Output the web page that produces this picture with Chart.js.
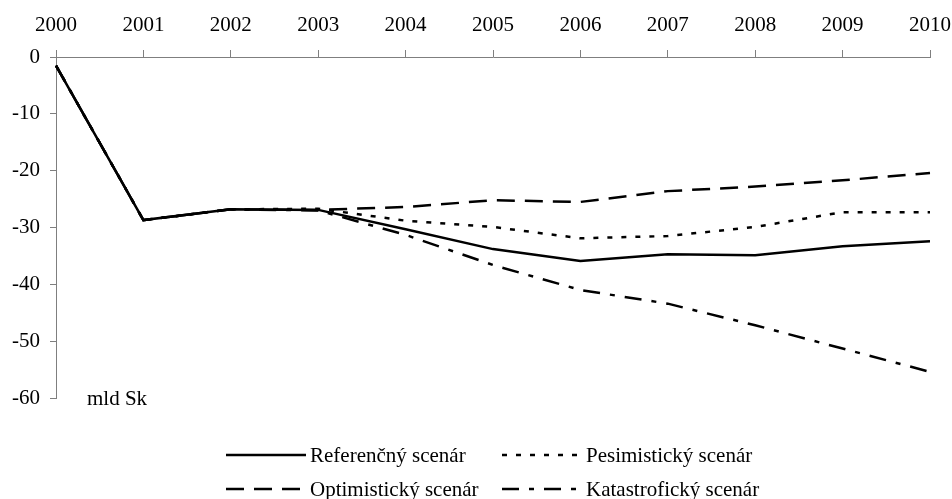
<!DOCTYPE html>
<html>
<head>
<meta charset="utf-8">
<script src="https://cdn.jsdelivr.net/npm/chart.js@4/dist/chart.umd.min.js"></script>
<style>
  html, body { margin: 0; padding: 0; background: #fff; }
  #wrap { width: 952px; height: 499px; }
</style>
</head>
<body>
<div id="wrap"><canvas id="c" width="952" height="499"></canvas></div>
<script>
// Saldo scenáre 2000–2010 (mld Sk)
const years = ['2000', '2001', '2002', '2003', '2004', '2005', '2006', '2007', '2008', '2009', '2010'];
const referencny    = [-1.5, -28.7, -26.8, -26.9, -30.3, -33.8, -35.9, -34.7, -34.9, -33.3, -32.4];
const pesimisticky  = [-1.5, -28.7, -26.8, -26.7, -28.8, -29.9, -31.9, -31.5, -29.9, -27.3, -27.3];
const optimisticky  = [-1.5, -28.7, -26.8, -26.9, -26.4, -25.2, -25.5, -23.6, -22.8, -21.7, -20.4];
const katastroficky = [-1.5, -28.7, -26.8, -27.0, -31.3, -36.6, -41.0, -43.4, -47.2, -51.3, -55.4];
const seriesNames = ['Referenčný scenár', 'Pesimistický scenár', 'Optimistický scenár', 'Katastrofický scenár'];
const yTicks = [0, -10, -20, -30, -40, -50, -60];
const unitLabel = 'mld Sk';

const FONT = '"Liberation Serif", "Times New Roman", serif';
const AXIS_GRAY = '#7f7f7f';

function series(label, data, dash) {
  return {
    label, data,
    borderColor: '#000',
    backgroundColor: '#000',
    borderWidth: 2.5,
    borderDash: dash,
    pointRadius: 0,
    tension: 0,
    fill: false
  };
}

// Legend drawn in two columns under the plot
const legendPlugin = {
  id: 'twoColLegend',
  afterDraw(chart) {
    const ctx = chart.ctx;
    const cols = [226, 502];
    const rows = [455, 489];
    const lineLen = 80;
    ctx.save();
    ctx.font = '21px ' + FONT;
    ctx.fillStyle = '#000';
    ctx.textBaseline = 'middle';
    chart.data.datasets.forEach((ds, i) => {
      const x = cols[i % 2];
      const y = rows[Math.floor(i / 2)];
      ctx.strokeStyle = '#000';
      ctx.lineWidth = ds.borderWidth;
      ctx.setLineDash(ds.borderDash || []);
      ctx.beginPath();
      ctx.moveTo(x, y);
      ctx.lineTo(x + lineLen, y);
      ctx.stroke();
      ctx.setLineDash([]);
      ctx.fillText(ds.label, x + lineLen + 4, y + 1);
    });
    // unit label inside the plot
    ctx.fillText(unitLabel, 87, chart.scales.y.getPixelForValue(-60) + 1);
    ctx.restore();
  }
};

new Chart(document.getElementById('c'), {
  type: 'line',
  data: {
    labels: years,
    datasets: [
      series(seriesNames[0], referencny, []),
      series(seriesNames[1], pesimisticky, [5, 9]),
      series(seriesNames[2], optimisticky, [18, 10]),
      series(seriesNames[3], katastroficky, [17, 10, 5, 10])
    ]
  },
  options: {
    responsive: false,
    animation: false,
    events: [],
    layout: { padding: { left: 0, right: 22, top: 0, bottom: 101 } },
    plugins: { legend: { display: false }, tooltip: { enabled: false } },
    scales: {
      x: {
        type: 'category',
        position: 'top',
        offset: false,
        afterFit(scale) { scale.height = 57; scale.paddingLeft = 0; scale.paddingRight = 0; },
        border: { display: true, color: AXIS_GRAY, width: 1 },
        grid: { display: true, drawOnChartArea: false, drawTicks: true, tickLength: 7, tickColor: AXIS_GRAY, tickWidth: 1 },
        ticks: { color: '#000', font: { family: FONT, size: 21 }, padding: 12, maxRotation: 0, autoSkip: false }
      },
      y: {
        min: -60, max: 0,
        afterFit(scale) { scale.width = 56; },
        afterBuildTicks(scale) { scale.ticks = yTicks.map(v => ({ value: v })); },
        border: { display: true, color: AXIS_GRAY, width: 1 },
        grid: { display: true, drawOnChartArea: false, drawTicks: true, tickLength: 6, tickColor: AXIS_GRAY, tickWidth: 1 },
        ticks: { color: '#000', font: { family: FONT, size: 21 }, padding: 10 }
      }
    }
  },
  plugins: [legendPlugin]
});
</script>
</body>
</html>
